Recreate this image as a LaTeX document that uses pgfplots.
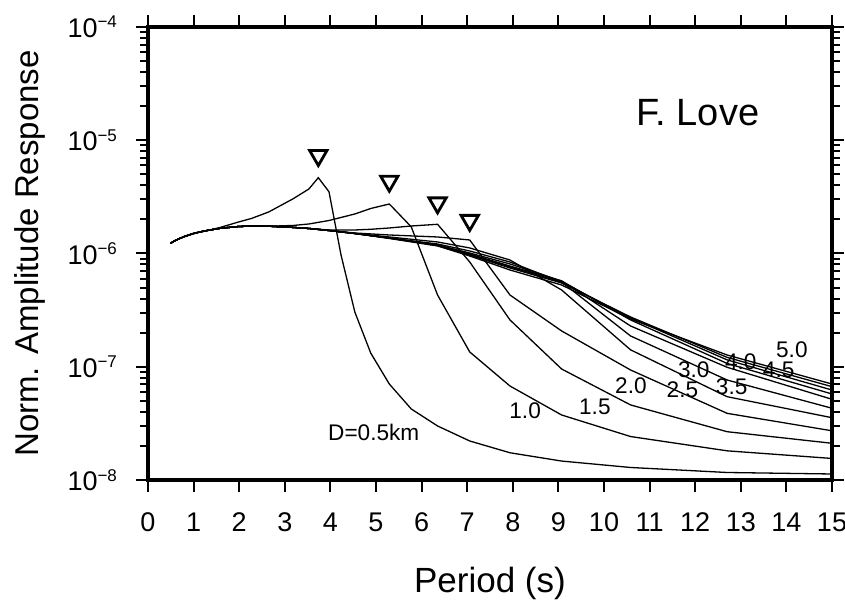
\documentclass[border=0pt]{standalone}
\usepackage{fontspec}
\setmainfont{Liberation Sans}
\usepackage{pgfplots}
\pgfplotsset{compat=1.18}
\newcommand{\tp}[1]{10\raisebox{4.8pt}{\fontsize{8.5}{8.5}\selectfont −#1}}
\pgfplotsset{curve/.style={black, solid, mark=none, line width=0.65pt}}
\begin{document}
\begin{tikzpicture}
\begin{axis}[
  scale only axis, width=342pt, height=226.5pt,
  xmin=0, xmax=15, ymin=1e-8, ymax=1e-4, ymode=log,
  xtick={0,1,...,15},
  ytick={1e-8,1e-7,1e-6,1e-5,1e-4},
  yticklabels={\tp{8},\tp{7},\tp{6},\tp{5},\tp{4}},
  tick align=outside,
  major tick length=6pt, minor tick length=3.75pt,
  every tick/.style={black, line width=1pt},
  axis line style={line width=1.6pt},
  tick label style={font=\fontsize{13.5}{15}\selectfont},
  xticklabel style={yshift=-7pt},
  yticklabel style={xshift=-6pt},
  /pgf/number format/assume math mode=true,
  xlabel={Period (s)}, ylabel={Norm. Amplitude Response},
  every axis x label/.style={at={(axis description cs:0.5,-0.2494)}, anchor=base, font=\fontsize{17.5}{20}\selectfont},
  every axis y label/.style={at={(axis description cs:-0.1608,0.5)}, rotate=90, anchor=base, font=\fontsize{16.5}{19}\selectfont},
]
% envelope (top at long periods)
\addplot[curve] coordinates {(0.496,1.230e-6) (0.567,1.282e-6) (0.661,1.338e-6) (0.794,1.410e-6) (0.992,1.499e-6) (1.134,1.548e-6) (1.323,1.603e-6) (1.588,1.670e-6) (1.984,1.731e-6) (2.268,1.746e-6) (2.646,1.742e-6) (3.175,1.70e-6) (3.528,1.663e-6) (3.969,1.596e-6) (4.536,1.502e-6) (5.292,1.357e-6) (6.35,1.165e-6) (7.056,9.50e-7) (7.938,7.15e-7) (9.071,5.27e-7) (10.583,2.64e-7) (12.7,1.27e-7) (15,7.04e-8)};
% D=5.0
\addplot[curve] coordinates {(0.496,1.230e-6) (0.567,1.282e-6) (0.661,1.338e-6) (0.794,1.410e-6) (0.992,1.499e-6) (1.134,1.548e-6) (1.323,1.603e-6) (1.588,1.670e-6) (1.984,1.731e-6) (2.268,1.746e-6) (2.646,1.742e-6) (3.175,1.70e-6) (3.528,1.663e-6) (3.969,1.596e-6) (4.536,1.502e-6) (5.292,1.370e-6) (6.35,1.177e-6) (7.056,9.70e-7) (7.938,7.45e-7) (9.071,5.49e-7) (10.583,2.75e-7) (12.7,1.21e-7) (15,6.67e-8)};
% D=4.5
\addplot[curve] coordinates {(0.496,1.230e-6) (0.567,1.282e-6) (0.661,1.338e-6) (0.794,1.410e-6) (0.992,1.499e-6) (1.134,1.548e-6) (1.323,1.603e-6) (1.588,1.670e-6) (1.984,1.731e-6) (2.268,1.746e-6) (2.646,1.742e-6) (3.175,1.70e-6) (3.528,1.663e-6) (3.969,1.596e-6) (4.536,1.502e-6) (5.292,1.370e-6) (6.35,1.177e-6) (7.056,9.80e-7) (7.938,7.60e-7) (9.071,5.60e-7) (10.583,2.70e-7) (12.7,1.15e-7) (15,6.23e-8)};
% D=4.0
\addplot[curve] coordinates {(0.496,1.230e-6) (0.567,1.282e-6) (0.661,1.338e-6) (0.794,1.410e-6) (0.992,1.499e-6) (1.134,1.548e-6) (1.323,1.603e-6) (1.588,1.670e-6) (1.984,1.731e-6) (2.268,1.746e-6) (2.646,1.742e-6) (3.175,1.70e-6) (3.528,1.663e-6) (3.969,1.596e-6) (4.536,1.502e-6) (5.292,1.370e-6) (6.35,1.189e-6) (7.056,9.90e-7) (7.938,7.75e-7) (9.071,5.72e-7) (10.583,2.59e-7) (12.7,1.07e-7) (15,5.75e-8)};
% D=3.5
\addplot[curve] coordinates {(0.496,1.230e-6) (0.567,1.282e-6) (0.661,1.338e-6) (0.794,1.410e-6) (0.992,1.499e-6) (1.134,1.548e-6) (1.323,1.603e-6) (1.588,1.670e-6) (1.984,1.731e-6) (2.268,1.746e-6) (2.646,1.742e-6) (3.175,1.70e-6) (3.528,1.663e-6) (3.969,1.596e-6) (4.536,1.502e-6) (5.292,1.370e-6) (6.35,1.189e-6) (7.056,1.010e-6) (7.938,8.08e-7) (9.071,5.72e-7) (10.583,2.29e-7) (12.7,9.89e-8) (15,5.16e-8)};
% D=3.0
\addplot[curve] coordinates {(0.496,1.230e-6) (0.567,1.282e-6) (0.661,1.338e-6) (0.794,1.410e-6) (0.992,1.499e-6) (1.134,1.548e-6) (1.323,1.603e-6) (1.588,1.670e-6) (1.984,1.731e-6) (2.268,1.746e-6) (2.646,1.742e-6) (3.175,1.70e-6) (3.528,1.663e-6) (3.969,1.596e-6) (4.536,1.502e-6) (5.292,1.370e-6) (6.35,1.213e-6) (7.056,1.052e-6) (7.938,8.41e-7) (9.071,5.60e-7) (10.583,1.87e-7) (12.7,7.64e-8) (15,4.30e-8)};
% D=2.5
\addplot[curve] coordinates {(0.496,1.230e-6) (0.567,1.282e-6) (0.661,1.338e-6) (0.794,1.410e-6) (0.992,1.499e-6) (1.134,1.548e-6) (1.323,1.603e-6) (1.588,1.670e-6) (1.984,1.731e-6) (2.268,1.746e-6) (2.646,1.742e-6) (3.175,1.70e-6) (3.528,1.663e-6) (3.969,1.596e-6) (4.536,1.502e-6) (5.292,1.399e-6) (6.35,1.264e-6) (7.056,1.119e-6) (7.938,8.76e-7) (9.071,4.76e-7) (10.583,1.41e-7) (12.7,5.44e-8) (15,3.55e-8)};
% D=2.0
\addplot[curve] coordinates {(0.496,1.230e-6) (0.567,1.282e-6) (0.661,1.338e-6) (0.794,1.410e-6) (0.992,1.499e-6) (1.134,1.548e-6) (1.323,1.603e-6) (1.588,1.670e-6) (1.984,1.731e-6) (2.268,1.746e-6) (2.646,1.742e-6) (3.175,1.70e-6) (3.528,1.663e-6) (3.969,1.596e-6) (4.536,1.517e-6) (5.292,1.457e-6) (6.35,1.399e-6) (7.056,1.316e-6) (7.938,4.30e-7) (9.071,2.07e-7) (10.583,9.36e-8) (12.7,3.88e-8) (15,2.72e-8)};
% D=1.5
\addplot[curve] coordinates {(0.496,1.230e-6) (0.567,1.282e-6) (0.661,1.338e-6) (0.794,1.410e-6) (0.992,1.499e-6) (1.134,1.548e-6) (1.323,1.603e-6) (1.588,1.670e-6) (1.984,1.731e-6) (2.268,1.746e-6) (2.646,1.742e-6) (3.175,1.70e-6) (3.528,1.663e-6) (3.969,1.613e-6) (4.536,1.613e-6) (4.885,1.636e-6) (5.292,1.680e-6) (5.773,1.749e-6) (6.35,1.811e-6) (7.056,8.41e-7) (7.938,2.59e-7) (9.071,9.55e-8) (10.583,4.60e-8) (12.7,2.67e-8) (15,2.11e-8)};
% D=1.0
\addplot[curve] coordinates {(0.496,1.230e-6) (0.567,1.282e-6) (0.661,1.338e-6) (0.794,1.410e-6) (0.992,1.499e-6) (1.134,1.548e-6) (1.323,1.603e-6) (1.588,1.670e-6) (1.984,1.731e-6) (2.268,1.746e-6) (2.646,1.742e-6) (3.175,1.767e-6) (3.528,1.822e-6) (3.969,1.956e-6) (4.536,2.233e-6) (4.885,2.497e-6) (5.292,2.736e-6) (5.773,1.72e-6) (6.35,4.30e-7) (7.056,1.35e-7) (7.938,6.76e-8) (9.071,3.75e-8) (10.583,2.42e-8) (12.7,1.81e-8) (15,1.55e-8)};
% D=0.5
\addplot[curve] coordinates {(0.496,1.230e-6) (0.567,1.282e-6) (0.661,1.338e-6) (0.794,1.410e-6) (0.992,1.499e-6) (1.134,1.548e-6) (1.323,1.603e-6) (1.588,1.70e-6) (1.984,1.897e-6) (2.268,2.038e-6) (2.646,2.325e-6) (3.175,3.03e-6) (3.528,3.71e-6) (3.735,4.67e-6) (3.969,3.51e-6) (4.233,9.70e-7) (4.536,3.04e-7) (4.885,1.32e-7) (5.292,7.04e-8) (5.773,4.24e-8) (6.35,3.00e-8) (7.056,2.21e-8) (7.938,1.74e-8) (9.071,1.47e-8) (10.583,1.29e-8) (12.7,1.165e-8) (15,1.13e-8)};
% resonance markers
\addplot[black, only marks, mark=triangle, mark size=5pt, mark options={rotate=180, line width=1.4pt, fill=white}] coordinates {(3.735,7.33e-6) (5.292,4.35e-6) (6.35,2.80e-6) (7.056,1.96e-6)};
% labels
\begin{scope}[every node/.style={font=\fontsize{11.3}{13}\selectfont, inner sep=0pt}]
\node at (axis cs:4.95,2.65e-8) {D=0.5km};
\node at (axis cs:8.27,4.07e-8) {1.0};
\node at (axis cs:9.80,4.46e-8) {1.5};
\node at (axis cs:10.59,6.79e-8) {2.0};
\node at (axis cs:11.72,6.21e-8) {2.5};
\node at (axis cs:11.97,9.46e-8) {3.0};
\node at (axis cs:12.80,6.70e-8) {3.5};
\node at (axis cs:13.00,1.109e-7) {4.0};
\node at (axis cs:13.83,9.32e-8) {4.5};
\node at (axis cs:14.12,1.42e-7) {5.0};
\end{scope}
\node[anchor=base, font=\fontsize{19}{22}\selectfont, inner sep=0pt] at (axis cs:12.06,1.336e-5) {F. Love};
\end{axis}
\pgfresetboundingbox
\path (current axis.south west) ++(-74pt,-61.5pt) rectangle ++(422.5pt,301.5pt);
\end{tikzpicture}
\end{document}
